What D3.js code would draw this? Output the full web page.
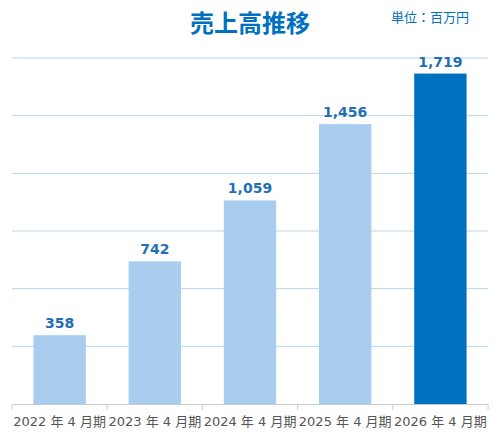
<!DOCTYPE html><html><head><meta charset="utf-8"><script src="https://cdn.jsdelivr.net/npm/d3@7"></script>
<style>body{margin:0;background:#fff;font-family:"Noto Sans CJK JP","Noto Sans",sans-serif}</style></head><body><svg id="c" width="500" height="440"></svg>
<script>
const categories=["2022 年 4 月期","2023 年 4 月期","2024 年 4 月期","2025 年 4 月期","2026 年 4 月期"];
const values=[358,742,1059,1456,1719];
const ticks=[0,300,600,900,1200,1500,1800];
const svg=d3.select("#c");
const x=d3.scaleBand().domain(categories).range([12,488]).paddingInner(0.45).paddingOuter(0.225);
const y=d3.scaleLinear().domain([0,1800]).range([404,58]);
svg.append("g").selectAll("line").data(ticks.slice(1)).join("line")
 .attr("x1",12).attr("x2",488).attr("y1",d=>y(d)).attr("y2",d=>y(d)).attr("stroke","#b7d6ea").attr("stroke-width",1);
svg.append("g").selectAll("rect").data(values).join("rect")
 .attr("x",(d,i)=>x(categories[i])).attr("width",x.bandwidth()).attr("y",d=>y(d)).attr("height",d=>404-y(d))
 .attr("fill",(d,i)=>i===values.length-1?"#0070c0":"#a9cdee");
svg.append("g").selectAll("text").data(values).join("text")
 .attr("x",(d,i)=>x(categories[i])+x.bandwidth()/2).attr("y",d=>y(d)-7).attr("text-anchor","middle")
 .attr("fill","#1f6fb5").attr("font-weight","bold").attr("font-size",14).attr("font-family","DejaVu Sans")
 .text(d=>d3.format(",")(d));
const ax=svg.append("g").attr("transform","translate(0,404)").call(d3.axisBottom(x).tickSize(0).tickPadding(13));
ax.select(".domain").attr("stroke","#ccc");
ax.selectAll("text").attr("fill","#555").attr("font-size",13).attr("font-family","DejaVu Sans, Noto Sans CJK JP");
const step=x.step();
svg.append("g").selectAll("line").data(d3.range(6)).join("line")
 .attr("x1",d=>12+d*476/5).attr("x2",d=>12+d*476/5).attr("y1",404).attr("y2",410).attr("stroke","#ccc");
svg.append("text").attr("x",250).attr("y",32).attr("text-anchor","middle").attr("fill","#0070c0")
 .attr("font-size",24).attr("font-weight","bold").text("売上高推移");
svg.append("text").attr("x",430).attr("y",22).attr("text-anchor","middle").attr("fill","#0070c0")
 .attr("font-size",13).text("単位：百万円");
</script></body></html>
